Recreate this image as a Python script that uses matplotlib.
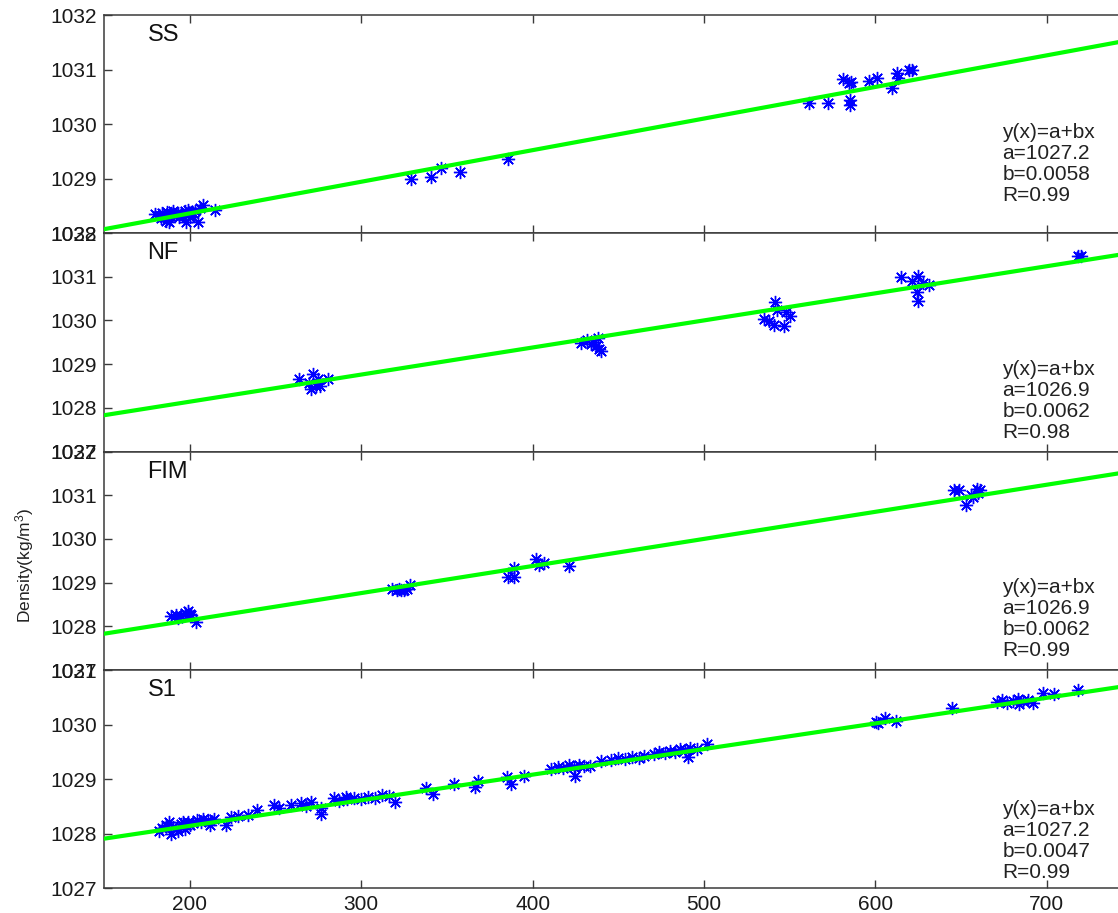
import matplotlib
matplotlib.use("Agg")
import matplotlib.pyplot as plt
import numpy as np

plt.rcParams['font.family'] = ['Liberation Sans', 'DejaVu Sans']
plt.rcParams['mathtext.fontset'] = 'custom'
plt.rcParams['mathtext.rm'] = 'Liberation Sans'
plt.rcParams['mathtext.it'] = 'Liberation Sans:italic'

# ---------------- data ----------------
panel_names = ["SS", "NF", "FIM", "S1"]
fit_a = [1027.2, 1026.9, 1026.9, 1027.2]
fit_b = [0.0058, 0.0062, 0.0062, 0.0047]
fit_R = ["0.99", "0.98", "0.99", "0.99"]
y_limits = [(1028, 1032), (1027, 1032), (1027, 1032), (1027, 1031)]
x_limits = (150, 741.5)
x_ticks = [200, 300, 400, 500, 600, 700]

ss_x = [180, 182, 184, 185, 187, 188, 190, 191, 193, 186, 188, 195, 197, 199, 200,
        201, 203, 198, 205, 206, 208, 215, 194, 183, 189, 192, 196, 202,
        329, 341, 346.5, 357.6, 385.6,
        561, 572.4, 585.3, 585.3, 581, 584.7, 586, 596.4, 601, 609.8, 612.7, 613, 619.7, 621.5]
ss_y = [1028.35, 1028.33, 1028.37, 1028.30, 1028.38, 1028.32, 1028.40, 1028.35, 1028.37, 1028.22,
        1028.20, 1028.35, 1028.40, 1028.42, 1028.30, 1028.38, 1028.40, 1028.20, 1028.20, 1028.45,
        1028.52, 1028.43, 1028.30, 1028.28, 1028.36, 1028.34, 1028.32, 1028.36,
        1028.99, 1029.03, 1029.19, 1029.12, 1029.36,
        1030.39, 1030.39, 1030.44, 1030.35, 1030.83, 1030.75, 1030.77, 1030.79, 1030.85, 1030.66,
        1030.94, 1030.84, 1031.00, 1030.99]

nf_x = [263.6, 271.8, 274.7, 280.5, 270.6, 273.5, 269.5, 276,
        428.5, 432, 435, 437, 439, 440, 438, 434,
        535, 538, 541.5, 541, 546.8, 548, 550.3, 542.7,
        615, 621.5, 625, 624.4, 625, 631.4, 628,
        718.4, 720]
nf_y = [1028.65, 1028.77, 1028.67, 1028.67, 1028.44, 1028.49, 1028.56, 1028.50,
        1029.48, 1029.55, 1029.50, 1029.42, 1029.35, 1029.30, 1029.60, 1029.45,
        1030.03, 1029.98, 1030.42, 1029.89, 1029.87, 1030.19, 1030.10, 1030.23,
        1030.99, 1030.90, 1031.01, 1030.65, 1030.44, 1030.81, 1030.85,
        1031.47, 1031.47]

fim_x = [189, 192, 195, 197, 199, 200, 201, 203.5, 193,
         318, 321, 323, 325, 327, 328.5, 322,
         385.6, 389, 389,
         402, 406.6, 404,
         421,
         646, 649, 653, 656, 659, 661, 660, 657]
fim_y = [1028.23, 1028.25, 1028.24, 1028.30, 1028.35, 1028.28, 1028.25, 1028.10, 1028.20,
         1028.85, 1028.83, 1028.82, 1028.84, 1028.86, 1028.95, 1028.86,
         1029.13, 1029.13, 1029.34,
         1029.55, 1029.45, 1029.40,
         1029.37,
         1031.12, 1031.12, 1030.78, 1031.00, 1031.15, 1031.12, 1031.05, 1030.95]

s1_x = [182, 184, 186, 188, 189, 190, 192, 193, 195, 196, 197, 199, 200, 202, 204, 206.4,
        208, 210.5, 212, 214, 221, 224, 228, 234, 239, 249, 252, 259, 264.8, 270.6, 276.5,
        284, 291, 267.7, 276.5, 287, 292, 296, 300, 304, 308, 312, 316, 320,
        337.8, 342, 354, 368, 366.4, 385, 387.4, 395,
        411, 415, 418, 421, 424, 427, 430, 433.5, 425, 440,
        446, 450, 454, 458, 462, 465,
        471, 474, 477, 480, 483, 486, 489, 492, 496, 490.7, 502,
        600.5, 605.7, 612, 601.6, 644.8,
        671, 674, 677, 680, 683, 686, 689, 692, 684, 698, 704, 718.4]
s1_y = [1028.05, 1028.10, 1028.15, 1028.21, 1028.00, 1028.12, 1028.10, 1028.05, 1028.18, 1028.22,
        1028.08, 1028.22, 1028.15, 1028.20, 1028.24, 1028.22,
        1028.26, 1028.25, 1028.15, 1028.27, 1028.16, 1028.30, 1028.33, 1028.34, 1028.43, 1028.52,
        1028.47, 1028.52, 1028.56, 1028.58, 1028.47,
        1028.65, 1028.67, 1028.50, 1028.36, 1028.60, 1028.63, 1028.66, 1028.64, 1028.67, 1028.65,
        1028.70, 1028.68, 1028.57,
        1028.83, 1028.73, 1028.90, 1028.96, 1028.85, 1029.03, 1028.90, 1029.06,
        1029.18, 1029.22, 1029.20, 1029.25, 1029.22, 1029.26, 1029.23, 1029.24, 1029.05, 1029.33,
        1029.35, 1029.38, 1029.36, 1029.40, 1029.38, 1029.42,
        1029.45, 1029.50, 1029.48, 1029.52, 1029.50, 1029.55, 1029.53, 1029.57, 1029.55, 1029.40, 1029.64,
        1030.05, 1030.12, 1030.07, 1030.03, 1030.30,
        1030.42, 1030.45, 1030.40, 1030.44, 1030.47, 1030.43, 1030.45, 1030.40, 1030.38, 1030.58,
        1030.56, 1030.63]

panel_x = [ss_x, nf_x, fim_x, s1_x]
panel_y = [ss_y, nf_y, fim_y, s1_y]
text_y0 = [0.459, 0.374, 0.376, 0.358]

# ---------------- layout ----------------
W, H = 1118, 913
fig = plt.figure(figsize=(W / 100, H / 100), dpi=100)
left_px = 104
tops = [15, 233, 451.5, 670]
bottoms = [233, 451.5, 670, 888]
spine_col = '#3a3a3a'

for i in range(4):
    ax = fig.add_axes([left_px / W, (H - bottoms[i]) / H, 1 - left_px / W,
                       (bottoms[i] - tops[i]) / H])
    ax.plot(panel_x[i], panel_y[i], linestyle='none', marker=(8, 2, 0),
            markersize=9.5, markeredgewidth=1.0, color='#0000ff', zorder=2)
    xl = np.array(x_limits)
    ax.plot(xl, fit_a[i] + fit_b[i] * xl, color='#00ff00', linewidth=3.0, zorder=3)
    ax.set_xlim(*x_limits)
    ax.set_ylim(*y_limits[i])
    ax.set_yticks(np.arange(y_limits[i][0], y_limits[i][1] + 1))
    ax.set_xticks(x_ticks)
    ax.spines['right'].set_visible(False)
    for s in ['left', 'top', 'bottom']:
        ax.spines[s].set_color(spine_col)
        ax.spines[s].set_linewidth(1.1)
    ax.tick_params(axis='both', direction='in', length=6, width=1.0, color=spine_col,
                   labelsize=15, labelcolor='#1a1a1a')
    ax.tick_params(axis='x', top=True, bottom=True, pad=5)
    ax.tick_params(axis='y', left=True, right=False, pad=5)
    if i < 3:
        ax.tick_params(axis='x', labelbottom=False)
    ax.text(0.043, 0.908, panel_names[i], transform=ax.transAxes, fontsize=17,
            ha='left', va='center', color='#111111')
    lines = ["y(x)=a+bx", "a=%.1f" % fit_a[i], "b=%.4f" % fit_b[i], "R=" + fit_R[i]]
    for k, t in enumerate(lines):
        ax.text(0.886, text_y0[i] - 0.095 * k, t, transform=ax.transAxes, fontsize=15,
                ha='left', va='center', color='#222222')

fig.text(0.0224, 0.381, 'Density(kg/m$^3$)', rotation=90, ha='center', va='center',
         fontsize=12.5, color='#222222')

fig.savefig('out.png', dpi=100)
